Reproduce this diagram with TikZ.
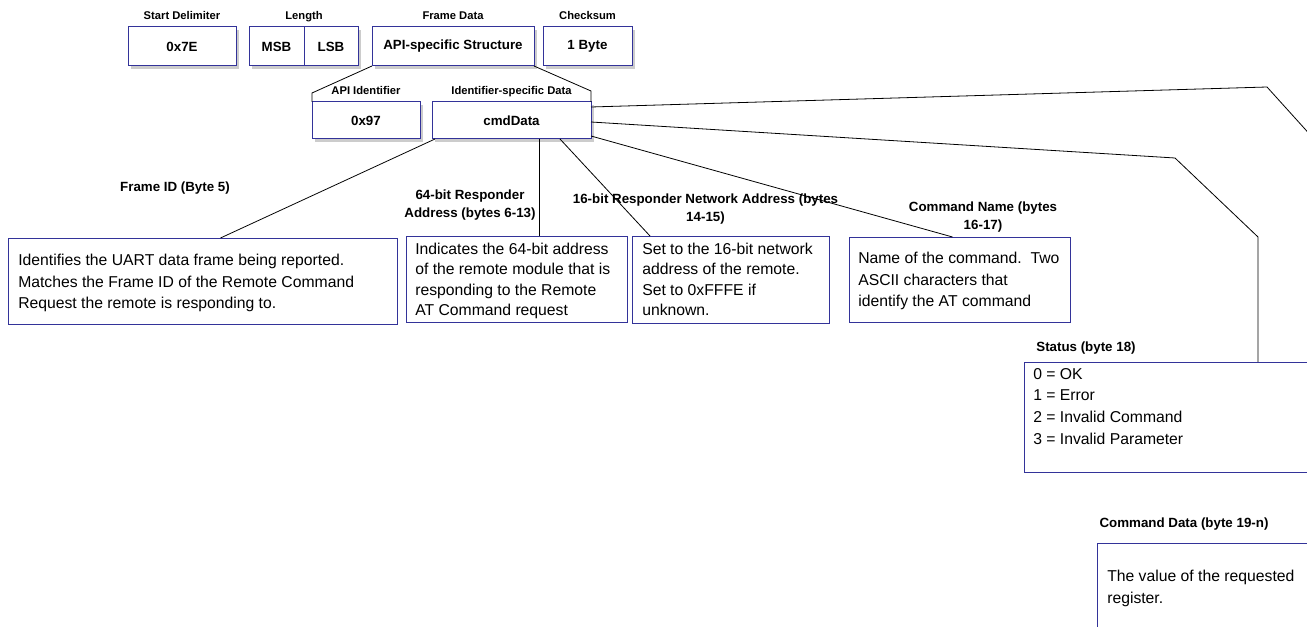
\documentclass[tikz,border=0pt]{standalone}
\usepackage{fontspec}
\setmainfont{Liberation Sans}
\usetikzlibrary{positioning,calc,shadows}
\definecolor{frameblue}{RGB}{51,51,153}
\definecolor{shade}{RGB}{204,204,204}
\tikzset{
  field/.style={draw=frameblue, line width=0.75pt, fill=white, inner sep=0pt, outer sep=0pt,
                minimum height=29.25pt, font=\fontsize{10}{12}\selectfont\bfseries,
                general shadow={fill=shade, shadow xshift=2pt, shadow yshift=-2pt}},
  hdr/.style={inner sep=0pt, text height=6pt, text depth=1.5pt,
              font=\fontsize{8.4}{10}\selectfont\bfseries},
  lbl/.style={inner sep=0pt, align=center, anchor=base,
              font=\fontsize{10}{13.9}\selectfont\bfseries},
  note/.style={draw=frameblue, line width=0.75pt, fill=white, inner sep=0pt, anchor=north west},
  desc/.style={inner sep=0pt, align=left, anchor=base west,
               font=\fontsize{11.8}{16.2}\selectfont},
  conn/.style={draw=black, line width=0.6pt},
}

\begin{document}
\begin{tikzpicture}[x=0.75pt, y=-0.75pt]
  \useasboundingbox (0,0) rectangle (1307,627);
  \clip (0,0) rectangle (1307,627);

  % API frame fields
  \node[field, minimum width=81pt] (start) at (182,46.5) {0x7E};
  \node[field, minimum width=41.25pt] (msb) at (276.5,46.5) {MSB};
  \node[field, minimum width=40.5pt, right=0pt of msb] (lsb) {LSB};
  \node[field, minimum width=121.5pt] (frame) at (453,46.5) {API-specific Structure};
  \node[field, minimum width=66.75pt] (csum) at (587.5,46.5) {1 Byte};

  \node[hdr, above=3.75pt of start] (startlbl) {Start Delimiter};
  \node[hdr, above=3.75pt of msb.north east] (lenlbl) {Length};
  \node[hdr, above=3.75pt of frame] (framelbl) {Frame Data};
  \node[hdr, above=3.75pt of csum] (csumlbl) {Checksum};

  % frame data split
  \node[field, minimum width=81pt, minimum height=27.75pt] (apiid) at (366,120.5) {0x97};
  \node[field, minimum width=119.25pt, minimum height=27.75pt] (cmd) at (511.5,120.5) {cmdData};

  \node[hdr, above=3.75pt of apiid] (apilbl) {API Identifier};
  \node[hdr, above=3.75pt of cmd] (cmdlbl) {Identifier-specific Data};

  \draw[conn] (frame.south west) -- ($(apiid.north west)+(0,-9)$) -- (apiid.north west);
  \draw[conn] (frame.south east) -- ($(cmd.north east)+(0,-11)$) -- (cmd.north east);

  % cmdData fields
  \node[note, minimum width=291.75pt, minimum height=64.5pt] (fid) at (8,238) {};
  \node[note, minimum width=165.75pt, minimum height=64.5pt] (r64) at (406,236) {};
  \node[note, minimum width=147.75pt, minimum height=65.25pt] (r16) at (632,236) {};
  \node[note, minimum width=165.75pt, minimum height=63.75pt] (rcn) at (849,237) {};
  \node[note, minimum width=237pt, minimum height=82.5pt] (stat) at (1024,362) {};
  \node[note, minimum width=225pt, minimum height=90pt] (cdata) at (1097,543) {};

  % base = last line
  \node[desc] (fidtxt) at ($(fid.north west)+(10,71)$)
    {Identifies the UART data frame being reported.\\ Matches the Frame ID of the Remote Command\\ Request the remote is responding to.};
  \node[desc, font=\fontsize{11.8}{15.5}\selectfont] (r64txt) at ($(r64.north west)+(9,80)$)
    {Indicates the 64-bit address\\ of the remote module that is\\ responding to the Remote\\ AT Command request};
  \node[desc, font=\fontsize{11.8}{15.5}\selectfont] (r16txt) at ($(r16.north west)+(10,80)$)
    {Set to the 16-bit network\\ address of the remote.\\ Set to 0xFFFE if\\ unknown.};
  \node[desc] (rcntxt) at ($(rcn.north west)+(9,70)$)
    {Name of the command.\ \ Two\\ ASCII characters that\\ identify the AT command};
  \node[desc] (stattxt) at ($(stat.north west)+(9,82)$)
    {0 = OK\\ 1 = Error\\ 2 = Invalid Command\\ 3 = Invalid Parameter};
  \node[desc] (cdatatxt) at ($(cdata.north west)+(10,60)$)
    {The value of the requested\\ register.};

  \node[lbl] (fidlbl) at (175,192) {Frame ID (Byte 5)};
  \node[lbl] (r64lbl) at (470,218) {64-bit Responder\\ Address (bytes 6-13)};
  \node[lbl] (r16lbl) at (705.5,222) {16-bit Responder Network Address (bytes\\ 14-15)};
  \node[lbl] (rcnlbl) at (983,230) {Command Name (bytes\\ 16-17)};
  \node[lbl] (statlbl) at (1086,352) {Status (byte 18)};
  \node[lbl] (cdatalbl) at (1184,527) {Command Data (byte 19-n)};

  % connectors
  \coordinate (r64tap) at ($(r64.north)+(22,0)$);
  \coordinate (statbend) at (1175,158);
  \coordinate (stattap) at ($(stat.north west)+(234,0)$);
  \coordinate (datbend) at (1267,87);
  \coordinate (datdrop) at (1351,180);
  \coordinate (dattap) at ($(cdata.north west)+(254,0)$);

  \draw[conn] ($(cmd.south west)+(3,0)$) -- ($(fid.north)+(17.5,0)$);
  \draw[conn] (cmd.south -| r64tap) -- (r64tap);
  \draw[conn] ($(cmd.south east)+(-31,0)$) -- ($(r16.north west)+(18,0)$);
  \draw[conn] ($(cmd.south east)+(0,-3)$) -- ($(rcn.north)+(-7.5,0)$);
  \draw[conn] ($(cmd.east)+(0,1.5)$) -- (statbend) -- (stattap |- rcn.north) -- (stattap);
  \draw[conn] ($(cmd.north east)+(0,5)$) -- (datbend) -- (datdrop) -- (dattap);
\end{tikzpicture}
\end{document}
